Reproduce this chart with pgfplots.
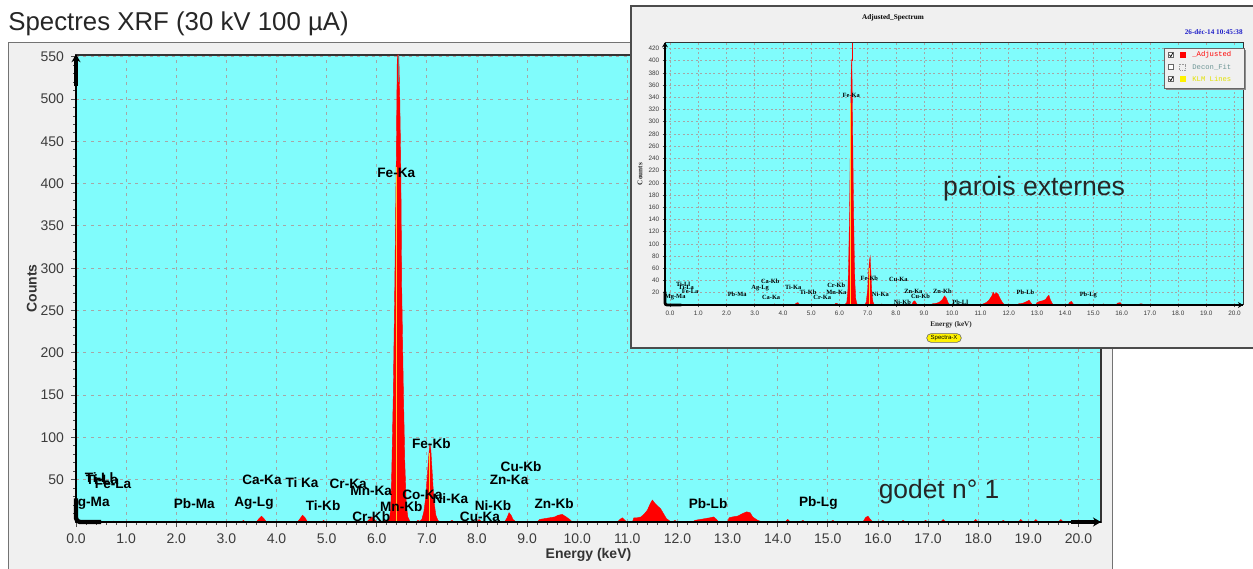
\documentclass[border=0pt]{standalone}
\usepackage{fontspec}
\setmainfont{Liberation Sans}
\newfontfamily\serifb{Liberation Serif}
\newfontfamily\monof{Liberation Mono}
\usepackage{pgfplots}
\pgfplotsset{compat=1.18}
\usetikzlibrary{arrows.meta,shapes.misc}

\definecolor{cyanbg}{RGB}{128,252,252}
\definecolor{panelgray}{RGB}{240,240,240}
\definecolor{klm}{RGB}{255,200,40}
\definecolor{datecol}{RGB}{30,30,200}
\definecolor{ticktxt}{RGB}{60,60,60}

\tikzset{
  lbl/.style={font=\bfseries\fontsize{6.8}{6.8}\selectfont, inner sep=0pt},
  slbl/.style={font=\serifb\bfseries\fontsize{3.2}{3.2}\selectfont, inner sep=0pt},
}

\begin{document}
\begin{tikzpicture}
\path[use as bounding box] (0,0) rectangle (626.5pt,284pt);

% title
\node[anchor=west, inner sep=0pt, font=\fontsize{12.9}{13}\selectfont, text=black!85]
  at (4pt,272pt) {Spectres XRF (30 kV 100 µA)};

% main panel
\filldraw[fill=panelgray, draw=black!55, line width=0.5pt] (4pt,-1pt) rectangle (556pt,262.5pt);

\begin{axis}[
  at={(38pt,23pt)}, anchor=south west,
  width=512.5pt, height=233.5pt, scale only axis,
  xmin=0, xmax=20.45, ymin=0, ymax=552,
  clip=false,
  axis background/.style={fill=cyanbg},
  xtick={0,...,20}, ytick={50,100,...,550},
  minor x tick num=4, minor ytick={10,20,...,540},
  tick pos=left, tick align=outside,
  major tick length=2.5pt, minor tick length=1.4pt,
  tick style={color=black!70, line width=0.4pt},
  grid=major,
  major grid style={color=black!35, dash pattern=on 1.5pt off 2.2pt, line width=0.4pt},
  axis line style={color=black!80, line width=0.7pt},
  /pgf/number format/assume math mode=true,
  ticklabel style={font=\fontsize{7}{7}\selectfont, text=ticktxt},
  xticklabel style={/pgf/number format/fixed, /pgf/number format/fixed zerofill, /pgf/number format/precision=1},
  xlabel={Energy (keV)}, ylabel={Counts},
  label style={font=\bfseries\fontsize{7}{7}\selectfont, text=black!80},
  xlabel style={at={(axis description cs:0.5,-0.0707)}, anchor=center},
  ylabel style={at={(axis description cs:-0.043,0.5)}, anchor=center},
]
\addplot[fill=red, draw=red, line width=0.2pt] coordinates {
(0,0)(0.45,0)(0.5,1)(0.55,0)(0.7,0)(0.75,1)(0.8,0)
(2.05,0)(2.08,1)(2.11,0)
(3.3,0)(3.34,2)(3.38,0)
(3.6,0)(3.65,4)(3.7,7)(3.75,4)(3.8,0)
(4.42,0)(4.47,4)(4.52,8)(4.57,5)(4.62,0)
(4.9,0)(4.94,2)(4.98,0)
(5.8,0)(5.85,3)(5.9,6)(5.95,3)(6.0,0)
(6.1,0)(6.15,2)(6.2,1)
(6.25,3)(6.28,15)(6.30,60)(6.33,150)(6.36,280)(6.39,430)(6.41,552)(6.44,552)(6.46,500)(6.48,420)(6.50,270)(6.53,160)(6.56,70)(6.59,20)(6.62,6)(6.66,1)(6.72,0)
(6.78,0)(6.82,2)(6.86,1)(6.9,3)(6.94,12)(6.98,30)(7.01,55)(7.04,80)(7.06,92)(7.08,85)(7.11,55)(7.14,25)(7.18,8)(7.22,2)(7.26,0)
(7.45,0)(7.5,2)(7.55,0)
(8.0,0)(8.04,3)(8.08,1)(8.12,0)
(8.55,0)(8.6,5)(8.64,11)(8.68,8)(8.72,3)(8.78,0)
(9.2,0)(9.25,3)(9.35,4)(9.45,5)(9.55,6)(9.62,8)(9.7,9)(9.78,6)(9.85,3)(9.9,0)
(10.8,0)(10.85,3)(10.9,5)(10.95,2)(11.0,0)
(11.1,0)(11.13,5)(11.2,5)(11.27,6)(11.33,9)(11.4,14)(11.46,22)(11.5,26)(11.55,22)(11.6,19)(11.66,16)(11.72,10)(11.78,4)(11.85,1)(11.9,0)
(11.95,2)(12.0,0)
(12.3,0)(12.35,2)(12.45,3)(12.55,4)(12.65,5)(12.72,6)(12.78,3)(12.82,0)
(13.0,0)(13.03,5)(13.1,6)(13.2,7)(13.3,10)(13.38,12)(13.45,11)(13.5,6)(13.6,2)(13.7,0)
(14.15,0)(14.2,3)(14.25,0)(14.45,0)(14.5,2)(14.55,0)
(15.05,0)(15.1,2)(15.15,0)
(15.7,0)(15.75,5)(15.8,7)(15.85,3)(15.9,0)
(16.05,0)(16.1,2)(16.15,0)(16.45,0)(16.5,2)(16.55,0)
(16.9,0)(16.95,2)(17.0,0)(17.25,0)(17.3,3)(17.35,0)
(17.9,0)(17.95,3)(18.0,0)(18.45,0)(18.5,2)(18.55,0)
(18.8,0)(18.85,3)(18.9,0)(19.1,0)(19.15,3)(19.2,0)
(19.6,0)(19.65,3)(19.7,0)(20.4,0)
} \closedcycle;
% KLM lines and cursor
\addplot[klm, line width=0.6pt] coordinates {(6.40,0)(6.40,420)};
\addplot[klm, line width=0.6pt] coordinates {(7.06,0)(7.06,82)};
\addplot[black!55, line width=0.4pt] coordinates {(6.43,520)(6.43,552)};

% thick axis ends
\draw[black, line width=0.9pt] (axis cs:0,0) -- (axis cs:20.45,0);
\draw[black, line width=0.9pt] (axis cs:0,0) -- (axis cs:0,552);
\draw[black, line width=2.2pt, -{Stealth[length=4pt,width=4.5pt]}] (axis cs:0,515) -- (axis cs:0,553);
\draw[black, line width=2.2pt, -{Stealth[length=4pt,width=4.5pt]}] (axis cs:19.85,0) -- (axis cs:20.45,0);
\draw[black, line width=2.2pt, rounded corners=2pt] (axis cs:0,28) -- (axis cs:0,0) -- (axis cs:0.5,0);

% peak labels
\node[lbl] at (axis cs:6.39,413) {Fe-Ka};
\node[lbl] at (axis cs:7.09,93) {Fe-Kb};
\node[lbl] at (axis cs:8.88,66) {Cu-Kb};
\node[lbl] at (axis cs:8.64,50) {Zn-Ka};
\node[lbl] at (axis cs:9.54,22) {Zn-Kb};
\node[lbl] at (axis cs:8.32,19) {Ni-Kb};
\node[lbl] at (axis cs:8.06,6) {Cu-Ka};
\node[lbl] at (axis cs:6.91,32) {Co-Ka};
\node[lbl] at (axis cs:7.47,28) {Ni-Ka};
\node[lbl] at (axis cs:6.49,18) {Mn-Kb};
\node[lbl] at (axis cs:5.89,37) {Mn-Ka};
\node[lbl] at (axis cs:5.89,6) {Cr-Kb};
\node[lbl] at (axis cs:5.43,45) {Cr-Ka};
\node[lbl] at (axis cs:4.93,19) {Ti-Kb};
\node[lbl] at (axis cs:4.51,46) {Ti Ka};
\node[lbl] at (axis cs:3.71,50) {Ca-Ka};
\node[lbl] at (axis cs:3.55,22) {Ag-Lg};
\node[lbl] at (axis cs:2.36,22) {Pb-Ma};
\node[lbl] at (axis cs:12.61,22) {Pb-Lb};
\node[lbl] at (axis cs:14.81,22) {Pb-Lg};
\node[lbl] at (axis cs:0.46,52) {Ti-Ll};
\node[lbl] at (axis cs:0.52,50) {Ti-La};
\node[lbl] at (axis cs:0.74,45) {Fe-La};
\node[lbl, anchor=west] at (axis cs:0.03,22) {g-Ma};
\node[font=\fontsize{13.2}{14}\selectfont, text=black!85, inner sep=0pt] at (axis cs:17.22,36) {godet n° 1};
\end{axis}

% inset panel
\filldraw[fill=panelgray, draw=black!70, line width=0.6pt] (315.5pt,110pt) rectangle (627pt,281pt);
\node[font=\serifb\bfseries\fontsize{3.6}{3.6}\selectfont, inner sep=0pt] at (446.5pt,275pt) {Adjusted\_Spectrum};
\node[anchor=east, font=\serifb\bfseries\fontsize{3.6}{3.6}\selectfont, text=datecol, inner sep=0pt] at (621.5pt,268pt) {26-déc-14 10:45:38};

\begin{axis}[
  at={(332.5pt,131.5pt)}, anchor=south west,
  width=289pt, height=131pt, scale only axis,
  xmin=-0.18, xmax=20.3, ymin=0, ymax=429,
  clip=false,
  axis background/.style={fill=cyanbg},
  xtick={0,...,20}, ytick={20,40,...,420},
  tick pos=left, tick align=outside,
  major tick length=1.2pt,
  tick style={color=black!70, line width=0.3pt},
  grid=major,
  major grid style={color=black!35, dash pattern=on 1pt off 1.2pt, line width=0.3pt},
  axis line style={color=black!80, line width=0.5pt},
  /pgf/number format/assume math mode=true,
  ticklabel style={font=\fontsize{3.2}{3.2}\selectfont, text=ticktxt, inner sep=1.5pt},
  xticklabel style={/pgf/number format/fixed, /pgf/number format/fixed zerofill, /pgf/number format/precision=1},
  xlabel={Energy (keV)}, ylabel={Counts},
  label style={font=\serifb\bfseries\fontsize{3.6}{3.6}\selectfont, text=black!85},
  xlabel style={at={(axis description cs:0.495,-0.076)}, anchor=center},
  ylabel style={at={(axis description cs:-0.043,0.5)}, anchor=center},
]
\addplot[fill=red, draw=red, line width=0.15pt] coordinates {
(-0.1,0)(0.55,0)(0.6,1)(0.65,0)
(1.9,0)(1.95,1)(2.0,0)(2.8,0)(2.85,1)(2.9,0)
(3.1,0)(3.15,1)(3.2,0)(3.65,0)(3.7,2)(3.75,0)
(4.4,0)(4.47,3)(4.53,4)(4.6,0)
(5.8,0)(5.88,3)(5.94,2)(6.0,0)
(6.15,0)(6.2,1)(6.26,4)(6.30,25)(6.33,80)(6.36,160)(6.39,280)(6.42,390)(6.44,403)(6.46,330)(6.49,200)(6.52,100)(6.55,35)(6.58,10)(6.62,2)(6.67,0)
(6.9,0)(6.95,5)(7.0,25)(7.03,50)(7.06,72)(7.09,80)(7.12,50)(7.15,20)(7.19,5)(7.24,0)
(7.45,0)(7.5,2)(7.55,0)(8.0,0)(8.05,2)(8.1,0)
(8.55,0)(8.6,4)(8.65,7)(8.7,5)(8.76,0)
(9.2,0)(9.3,2)(9.45,3)(9.55,5)(9.65,9)(9.72,15)(9.78,12)(9.85,4)(9.92,0)
(10.3,0)(10.35,2)(10.4,0)
(11.0,0)(11.1,2)(11.2,4)(11.3,8)(11.4,15)(11.45,21)(11.5,17)(11.55,20)(11.62,18)(11.7,10)(11.78,4)(11.85,0)
(12.3,0)(12.35,2)(12.5,3)(12.65,6)(12.72,8)(12.78,4)(12.85,0)
(12.95,0)(13.0,4)(13.1,6)(13.2,7)(13.3,9)(13.38,14)(13.42,16)(13.48,8)(13.55,2)(13.6,0)
(14.1,0)(14.15,4)(14.22,6)(14.28,2)(14.33,0)
(14.8,0)(14.85,2)(14.9,0)(15.3,0)(15.35,2)(15.4,0)
(15.8,0)(15.85,3)(15.95,4)(16.0,0)
(16.6,0)(16.65,2)(16.72,2)(16.78,0)
(17.3,0)(17.35,1)(17.4,0)(18.2,0)(18.25,1)(18.3,0)
(19.0,0)(19.05,1)(19.1,0)(20.3,0)
} \closedcycle;
\addplot[klm, line width=0.45pt] coordinates {(6.40,0)(6.40,330)};
\addplot[klm, line width=0.45pt] coordinates {(7.06,0)(7.06,60)};
\addplot[red, line width=0.3pt] coordinates {(6.44,400)(6.44,429)};

\draw[black, line width=0.7pt] (axis cs:-0.18,0) -- (axis cs:20.3,0);
\draw[black, line width=0.7pt] (axis cs:-0.18,0) -- (axis cs:-0.18,429);
\draw[black, line width=1.4pt, -{Stealth[length=2.5pt,width=3pt]}] (axis cs:-0.18,400) -- (axis cs:-0.18,430);
\draw[black, line width=1.4pt, -{Stealth[length=2.5pt,width=3pt]}] (axis cs:19.85,0) -- (axis cs:20.3,0);
\draw[black, line width=1.4pt, rounded corners=1pt] (axis cs:-0.18,22) -- (axis cs:-0.18,0) -- (axis cs:0.4,0);

\node[slbl] at (axis cs:6.42,343) {Fe-Ka};
\node[slbl] at (axis cs:7.06,44) {Fe-Kb};
\node[slbl] at (axis cs:8.09,42) {Cu-Ka};
\node[slbl] at (axis cs:7.45,18) {Ni-Ka};
\node[slbl] at (axis cs:8.62,23) {Zn-Ka};
\node[slbl] at (axis cs:8.87,15) {Cu-Kb};
\node[slbl] at (axis cs:9.65,23) {Zn-Kb};
\node[slbl] at (axis cs:5.89,33) {Cr-Kb};
\node[slbl] at (axis cs:5.89,21) {Mn-Ka};
\node[slbl] at (axis cs:5.39,13) {Cr-Ka};
\node[slbl] at (axis cs:4.89,21) {Ti-Kb};
\node[slbl] at (axis cs:4.36,29) {Ti-Ka};
\node[slbl] at (axis cs:3.55,38) {Ca-Kb};
\node[slbl] at (axis cs:3.19,28) {Ag-Lg};
\node[slbl] at (axis cs:3.58,13) {Ca-Ka};
\node[slbl] at (axis cs:2.38,18) {Pb-Ma};
\node[slbl] at (axis cs:12.59,20) {Pb-Lb};
\node[slbl] at (axis cs:14.82,16) {Pb-Lg};
\node[slbl] at (axis cs:8.23,5) {Ni-Kb};
\node[slbl] at (axis cs:10.28,5) {Pb-Ll};
\node[slbl] at (axis cs:0.46,34) {Ti-Ll};
\node[slbl] at (axis cs:0.57,29) {Ti-La};
\node[slbl] at (axis cs:0.71,23) {Fe-La};
\node[slbl, anchor=west] at (axis cs:-0.2,13) {Mg-Ma};
\node[font=\fontsize{13.3}{14}\selectfont, text=black!85, inner sep=0pt] at (axis cs:12.9,191) {parois externes};
\end{axis}

% inset legend
\fill[black!45] (583pt,239pt) rectangle (623pt,259pt);
\filldraw[fill=panelgray, draw=black!60, line width=0.3pt] (582pt,240pt) rectangle (622pt,260pt);
\foreach \yy in {256.5,250.5,244.5}{
  \filldraw[fill=white, draw=black!60, line width=0.2pt] (584.2pt,\yy pt-1.3pt) rectangle (586.8pt,\yy pt+1.3pt);
}
\draw[black, line width=0.35pt] (584.7pt,256.6pt) -- (585.4pt,255.7pt) -- (586.4pt,257.5pt);
\draw[black, line width=0.35pt] (584.7pt,244.6pt) -- (585.4pt,243.7pt) -- (586.4pt,245.5pt);
\fill[red] (589.8pt,255pt) rectangle (592.8pt,258pt);
\draw[black!40, dash pattern=on 0.4pt off 0.4pt, line width=0.2pt] (589.8pt,249pt) rectangle (592.8pt,252pt);
\fill[yellow] (589.8pt,243pt) rectangle (592.8pt,246pt);
\node[anchor=west, inner sep=0pt, font=\monof\fontsize{3.6}{3.6}\selectfont, text=red] at (596pt,256.5pt) {\_Adjusted};
\node[anchor=west, inner sep=0pt, font=\monof\fontsize{3.6}{3.6}\selectfont, text={rgb,255:red,110;green,150;blue,150}] at (596pt,250.5pt) {Decon\_Fit};
\node[anchor=west, inner sep=0pt, font=\monof\fontsize{3.6}{3.6}\selectfont, text={rgb,255:red,225;green,225;blue,0}] at (596pt,244.5pt) {KLM Lines};

% Spectra-X button
\node[rounded rectangle, fill=yellow, draw=black!60, line width=0.3pt, inner xsep=1.5pt, inner ysep=0.8pt,
  font=\fontsize{3}{3}\selectfont] at (472pt,115pt) {Spectra-X};
\end{tikzpicture}
\end{document}
